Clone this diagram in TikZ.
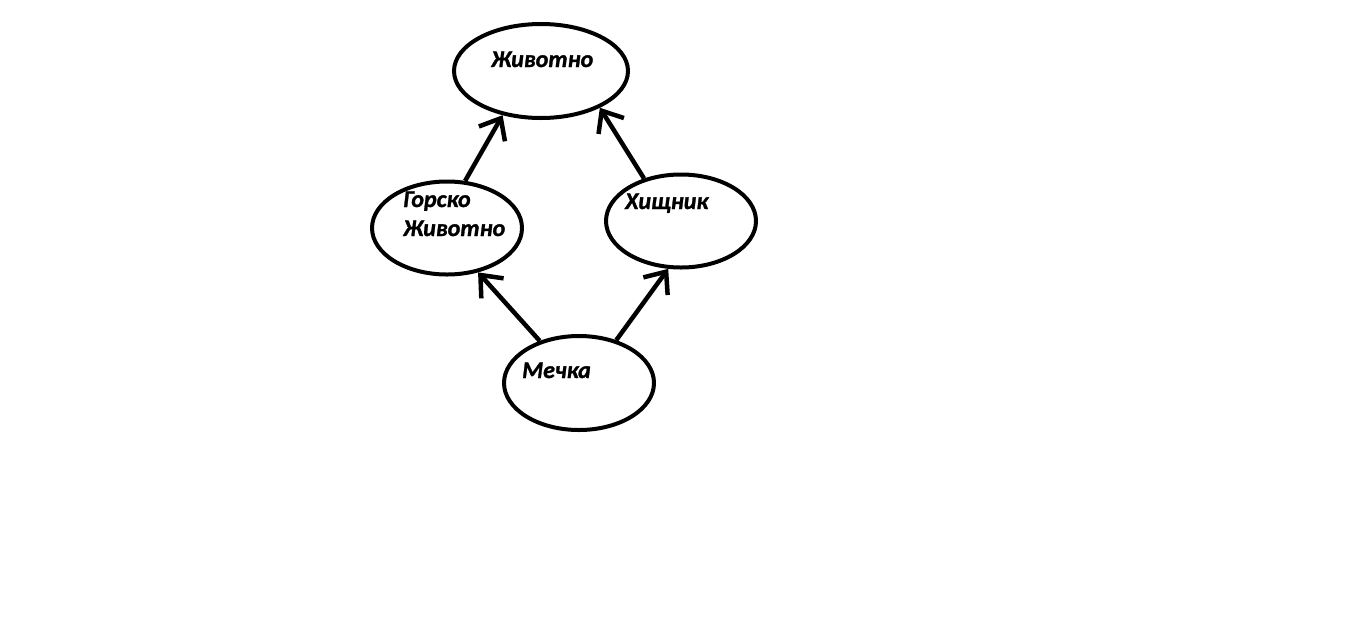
\documentclass[tikz,border=0pt]{standalone}
\usepackage{fontspec}
\setmainfont{Carlito}
\newfontfamily\lblfont{Carlito}[UprightFont={* Bold Italic},FakeBold=1.2]
\usetikzlibrary{shapes.geometric,arrows.meta}
\begin{document}
\begin{tikzpicture}[x=1pt,y=-1pt,
  oval/.style={draw=black,line width=4pt,ellipse,inner sep=0pt},
  lbl/.style={anchor=base west,inner sep=0pt,font=\fontsize{24}{29}\selectfont\lblfont,align=left},
  link/.style={draw=black,line width=4.5pt,-{Straight Barb[length=18pt,width=30pt]}}]
\path[use as bounding box,fill=white] (0,0) rectangle (1360,625);
\node[oval,minimum width=174pt,minimum height=94pt] (anim) at (541,71) {};
\node[oval,minimum width=150pt,minimum height=93pt] (mount) at (447,228) {};
\node[oval,minimum width=150pt,minimum height=93pt] (pred) at (681,221) {};
\node[oval,minimum width=150pt,minimum height=94pt] (bear) at (579,383) {};
\node[lbl] (tanim) at (491,67) {Животно};
\node[lbl] (tmount) at (403,236) {Горско\\Животно};
\node[lbl] (tpred) at (625,209) {Хищник};
\node[lbl] (tbear) at (522,378) {Мечка};
\draw[link] (mount.69) -- (anim.229);
\draw[link] (pred.131) -- (anim.-32);
\draw[link] (bear.133) -- (mount.-55);
\draw[link] (bear.49) -- (pred.-105);
\end{tikzpicture}
\end{document}
